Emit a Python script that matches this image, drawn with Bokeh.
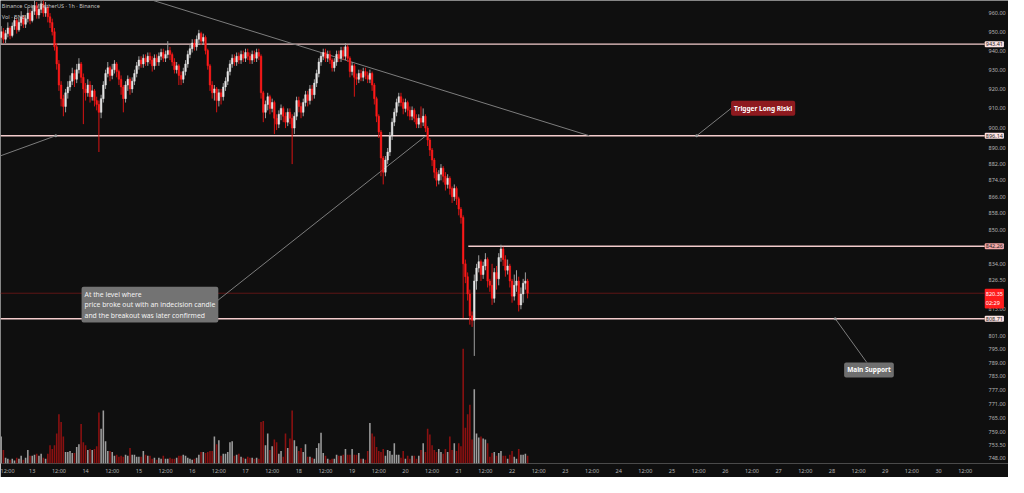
import numpy as np
from bokeh.plotting import figure
from bokeh.models import (Range1d, LinearScale, FixedTicker, PrintfTickFormatter,
                          Label, ColumnDataSource)
from bokeh.embed import file_html
from bokeh.resources import INLINE

# ---------------- data (hours since day 13 00:00, 1h candles) ----------------
hours = list(range(-14, 224))
first_open = 947
close = [
    950, 946, 949, 952, 948, 953, 956, 951, 955, 958,
    954, 957, 960, 956, 961, 964, 959, 962, 965, 960,
    963, 958, 955, 950, 942, 933, 922, 915, 911, 918,
    921, 924, 928, 925, 930, 933, 926, 920, 918, 922,
    916, 919, 914, 912, 908, 915, 922, 928, 931, 927,
    930, 933, 929, 925, 921, 915, 922, 925, 920, 924,
    928, 932, 935, 933, 936, 934, 937, 935, 932, 936,
    934, 937, 939, 936, 938, 940, 938, 934, 930, 932,
    927, 925, 929, 933, 938, 941, 944, 942, 946, 949,
    945, 947, 940, 932, 922, 918, 920, 914, 918, 916,
    921, 924, 929, 933, 936, 934, 937, 935, 938, 936,
    939, 937, 935, 938, 936, 939, 937, 918, 908, 912,
    916, 910, 913, 905, 902, 907, 910, 906, 903, 908,
    905, 900, 906, 914, 911, 908, 913, 917, 914, 920,
    917, 923, 928, 934, 937, 939, 936, 938, 935, 931,
    934, 938, 936, 940, 937, 942, 936, 929, 932, 926,
    925, 928, 926, 929, 927, 925, 928, 922, 915, 906,
    898, 885, 878, 884, 888, 896, 903, 908, 913, 916,
    913, 910, 913, 909, 906, 909, 905, 902, 905, 903,
    906, 900, 894, 889, 884, 878, 874, 877, 880, 876,
    872, 875, 870, 866, 870, 865, 860, 856, 834, 828,
    820, 810, 808, 826, 832, 835, 829, 833, 836, 826,
    824, 818, 830, 827, 837, 841, 836, 831, 833, 826,
    819, 824, 826, 815, 820, 825, 826, 820.35,
]
high = [
    953, 952, 951, 955, 953, 955, 958, 957, 957, 961,
    959, 959, 963, 962, 964, 968, 966, 965, 969, 967,
    966, 964, 960, 957, 952, 944, 935, 924, 917, 920,
    924, 927, 931, 930, 933, 936, 934, 928, 923, 925,
    924, 922, 920, 916, 914, 917, 924, 930, 934, 932,
    933, 935, 934, 930, 927, 922, 924, 927, 926, 926,
    930, 934, 937, 937, 938, 938, 939, 939, 937, 938,
    938, 939, 941, 941, 940, 945, 942, 939, 936, 934,
    933, 929, 931, 935, 940, 943, 946, 946, 948, 951,
    950, 949, 948, 941, 933, 924, 922, 921, 920, 920,
    923, 926, 931, 935, 938, 938, 939, 939, 940, 940,
    941, 941, 939, 940, 940, 941, 941, 938, 919, 914,
    918, 917, 915, 914, 907, 909, 912, 911, 908, 910,
    910, 907, 908, 916, 916, 913, 915, 919, 919, 922,
    922, 925, 930, 936, 939, 941, 941, 940, 940, 936,
    936, 940, 940, 942, 942, 944, 943, 937, 934, 933,
    928, 930, 930, 931, 931, 929, 930, 929, 923, 916,
    907, 899, 886, 886, 890, 898, 905, 910, 915, 918,
    918, 915, 915, 914, 911, 911, 910, 907, 907, 911,
    910, 907, 901, 895, 890, 885, 880, 879, 882, 881,
    878, 877, 876, 871, 872, 871, 866, 861, 857, 836,
    830, 822, 812, 829, 834, 838, 836, 835, 839, 837,
    827, 834, 832, 833, 839, 843, 842, 838, 836, 834,
    827, 829, 831, 828, 823, 827, 830, 827,
]
low = [
    943, 944, 944, 947, 946, 947, 951, 949, 950, 953,
    952, 952, 955, 954, 955, 959, 957, 957, 960, 958,
    958, 955, 952, 948, 940, 930, 919, 911, 906, 908,
    915, 919, 922, 921, 923, 928, 923, 902, 914, 916,
    913, 914, 911, 909, 888, 905, 913, 920, 926, 924,
    925, 928, 926, 922, 917, 908, 913, 919, 917, 918,
    922, 926, 930, 931, 931, 932, 932, 933, 929, 930,
    932, 932, 935, 934, 934, 936, 935, 932, 928, 928,
    922, 922, 923, 927, 931, 936, 939, 940, 940, 944,
    943, 943, 938, 930, 919, 915, 914, 908, 911, 912,
    914, 919, 922, 927, 931, 932, 932, 933, 933, 934,
    934, 935, 933, 933, 934, 934, 935, 915, 903, 905,
    909, 907, 908, 897, 899, 900, 904, 903, 900, 901,
    902, 882, 897, 904, 908, 905, 906, 911, 911, 912,
    914, 915, 921, 926, 932, 935, 934, 934, 933, 929,
    929, 932, 934, 934, 935, 935, 934, 926, 927, 916,
    922, 923, 924, 924, 925, 923, 923, 919, 912, 903,
    895, 876, 872, 876, 882, 886, 894, 901, 906, 911,
    911, 907, 908, 906, 904, 904, 903, 900, 900, 900,
    901, 898, 891, 886, 881, 875, 871, 872, 874, 873,
    869, 870, 867, 863, 864, 862, 857, 853, 809, 825,
    817, 806, 805, 792, 822, 830, 826, 827, 831, 823,
    821, 815, 816, 822, 824, 835, 833, 828, 829, 823,
    816, 817, 821, 812, 813, 816, 822, 818,
]
volume = [
    28, 14, 6, 5, 4, 5, 3, 6, 5, 8,
    4, 6, 14, 8, 8, 9, 10, 8, 10, 6,
    5, 10, 19, 15, 19, 31, 51, 43, 28, 12,
    12, 13, 11, 11, 17, 20, 41, 22, 19, 14,
    15, 14, 15, 18, 53, 36, 55, 23, 13, 13,
    12, 8, 9, 7, 8, 7, 9, 8, 16, 9,
    9, 7, 7, 7, 13, 9, 8, 8, 5, 6,
    4, 6, 5, 8, 5, 5, 6, 5, 5, 6,
    8, 8, 9, 8, 6, 5, 4, 5, 6, 9,
    12, 12, 11, 12, 13, 13, 28, 20, 24, 8,
    10, 10, 12, 22, 23, 8, 9, 10, 7, 6,
    5, 7, 6, 6, 5, 6, 5, 43, 44, 19,
    31, 14, 18, 25, 22, 10, 13, 7, 31, 16,
    26, 55, 24, 18, 13, 16, 12, 20, 7, 7,
    6, 5, 16, 21, 32, 11, 8, 5, 4, 5,
    5, 9, 8, 8, 9, 15, 9, 9, 15, 9,
    9, 11, 5, 5, 4, 13, 42, 31, 28, 17,
    13, 12, 15, 8, 14, 13, 9, 21, 9, 9,
    6, 13, 5, 8, 5, 8, 8, 5, 8, 14,
    21, 12, 36, 30, 19, 14, 12, 15, 12, 10,
    15, 12, 28, 14, 21, 13, 21, 18, 119, 37,
    51, 61, 25, 77, 31, 27, 28, 26, 25, 21,
    7, 11, 12, 8, 11, 13, 8, 8, 5, 9,
    13, 7, 5, 15, 9, 9, 10, 8,
]

# key levels and drawings (hour, price)
levels = [943.41, 896.14, 808.71]
level_842 = 842.26
level_842_start = 196.3
last_price = 820.35
countdown = "02:29"
trend_down = [(54.5, 966.8), (250.8, 896.14)]
trend_left = [(-14.3, 886.1), (10.6, 896.14)]
note_link = [(83.3, 816.9), (177.2, 896.14)]
trigger_link = [(299.1, 896.14), (314.6, 910.0)]
support_link = [(361.5, 808.71), (375.7, 789.1)]

price_ticks = [960, 950, 940, 930, 920, 910, 900, 890, 882, 874, 866, 858, 850,
               834, 826.5, 813, 801, 795, 789, 783, 777, 771, 765, 759, 753.5, 748]
time_ticks = list(range(-12, 421, 12))
day_names = [str(d) for d in range(13, 31)]

note_text = ("At the level where\nprice broke out with an indecision candle\n"
             "and the breakout was later confirmed")
title_text = "Binance Coin / TetherUS \u00b7 1h \u00b7 Binance"
vol_text = "Vol \u00b7 BNB"

# ---------------- derived ----------------
opens = [first_open] + close[:-1]
up = [c >= o for o, c in zip(opens, close)]
BG = "#0f0f0f"
UP_BODY, UP_WICK = "#e6e6e6", "#9e9e9e"
DN_BODY, DN_WICK = "#ff1a1a", "#d81414"
VOL_UP, VOL_DN = "#9c9c9c", "#8c1111"
LEVEL = "#f3cccc"
FONT = "Noto Sans"

src = ColumnDataSource(dict(
    x=hours, o=opens, c=close, h=high, l=low, v=volume,
    top=[max(o, c) for o, c in zip(opens, close)],
    bot=[min(o, c) for o, c in zip(opens, close)],
    body=[UP_BODY if u else DN_BODY for u in up],
    wick=[UP_WICK if u else DN_WICK for u in up],
    vcol=[VOL_UP if u else VOL_DN for u in up],
))

# plot frame spans the whole width; price scale drawn at its right edge
X0, XF = -14.3, 439.5      # full frame extent (hours)
XB = 428.8                 # left edge of the price-scale boxes (hours)
p = figure(width=1008, height=477, x_range=Range1d(X0, XF), y_range=Range1d(745.6, 966.8),
           y_axis_type="log", y_axis_location="right", output_backend="svg",
           toolbar_location=None, background_fill_color=BG, border_fill_color=BG,
           outline_line_color=None, min_border_left=0, min_border_top=0,
           min_border_right=0, min_border_bottom=12)
p.grid.visible = False

p.extra_y_ranges = {"vol": Range1d(0, 480)}
p.extra_y_scales = {"vol": LinearScale()}

# axes
p.yaxis.ticker = FixedTicker(ticks=price_ticks, minor_ticks=[])
p.yaxis.formatter = PrintfTickFormatter(format="%.2f")
p.xaxis.ticker = FixedTicker(ticks=time_ticks, minor_ticks=[])
p.xaxis.major_label_overrides = {
    t: (day_names[t // 24] if t % 24 == 0 else "12:00") for t in time_ticks}
for ax in (p.xaxis[0], p.yaxis[0]):
    ax.axis_line_color = None
    ax.major_tick_line_color = None
    ax.minor_tick_line_color = None
    ax.major_tick_out = 0
    ax.major_tick_in = 0
    ax.major_label_text_color = "#b4b4b4"
    ax.major_label_text_font = FONT
    ax.major_label_text_font_size = "5.5px"
p.yaxis.major_label_standoff = -20
p.xaxis.major_label_standoff = 3

# volume
p.vbar(x="x", width=0.7, top="v", bottom=0, source=src, y_range_name="vol",
       fill_color="vcol", line_color=None)

# levels (run up to the price-scale boxes)
for lv in levels:
    p.segment(x0=X0, y0=lv, x1=XB, y1=lv, line_color=LEVEL, line_width=1.4)
p.segment(x0=X0, y0=last_price, x1=XB, y1=last_price, line_color="#5e1616", line_width=1)
p.segment(x0=level_842_start, y0=level_842, x1=XB, y1=level_842, line_color=LEVEL, line_width=1.4)

# trend lines and connectors
for seg in (trend_down, trend_left, note_link, trigger_link, support_link):
    (xa, ya), (xb, yb) = seg
    p.segment(x0=xa, y0=ya, x1=xb, y1=yb, line_color="#7d7d7d", line_width=1)
p.scatter(x=[trend_left[1][0], trigger_link[0][0], support_link[0][0]],
          y=[trend_left[1][1], trigger_link[0][1], support_link[0][1]],
          size=3, fill_color="#9a9a9a", line_color=None)

# candles
p.segment(x0="x", y0="l", x1="x", y1="h", source=src, line_color="wick", line_width=1)
p.vbar(x="x", width=0.7, top="top", bottom="bot", source=src,
       fill_color="body", line_color="body", line_width=0.5)

# price-scale value boxes
def axis_box(price, text, bg, fg, anchor="center_left"):
    p.add_layout(Label(x=XB, y=price, text=text, anchor=anchor,
                       text_font=FONT, text_font_size="5.5px", text_color=fg,
                       background_fill_color=bg, background_fill_alpha=1,
                       padding=1, border_radius=1))
axis_box(levels[0], f"{levels[0]:.2f}", "#fde3e3", "#222222")
axis_box(levels[1], f"{levels[1]:.2f}", "#fde3e3", "#222222")
axis_box(levels[2], f"{levels[2]:.2f}", "#fde3e3", "#222222")
axis_box(level_842, f"{level_842:.2f}", "#f3a7a7", "#222222")
axis_box(822.4, f"{last_price:.2f}\n{countdown}", "#ff1d1d", "#ffffff", anchor="top_left")

# annotations
p.add_layout(Label(x=22.2, y=823.3, text=note_text, anchor="top_left", text_font=FONT,
                   text_font_size="6.8px", text_color="#f2f2f2", text_line_height=1.15,
                   background_fill_color="#737373", background_fill_alpha=1,
                   padding=3, border_radius=2))
p.add_layout(Label(x=314.6, y=913.9, text="Trigger Long Riski", anchor="top_left",
                   text_font=FONT, text_font_size="6.5px", text_font_style="bold",
                   text_color="#ffffff", background_fill_color="#8e1a1f",
                   background_fill_alpha=1, padding=3, border_radius=2))
p.add_layout(Label(x=365.5, y=789.1, text="Main Support", anchor="top_left",
                   text_font=FONT, text_font_size="6.5px", text_font_style="bold",
                   text_color="#ffffff", background_fill_color="#6f6f6f",
                   background_fill_alpha=1, padding=3, border_radius=2))

# legend texts
p.add_layout(Label(x=X0 + 0.6, y=963.6, text=title_text, anchor="center_left",
                   text_font=FONT, text_font_size="5.5px", text_color="#c4c4c4"))
p.add_layout(Label(x=X0 + 0.6, y=957.9, text=vol_text, anchor="center_left",
                   text_font=FONT, text_font_size="5.5px", text_color="#c4c4c4"))

html = file_html(p, INLINE)
html = html.replace("<body>", '<body style="background:#0f0f0f;">', 1)
open("out.html", "w").write(html)
